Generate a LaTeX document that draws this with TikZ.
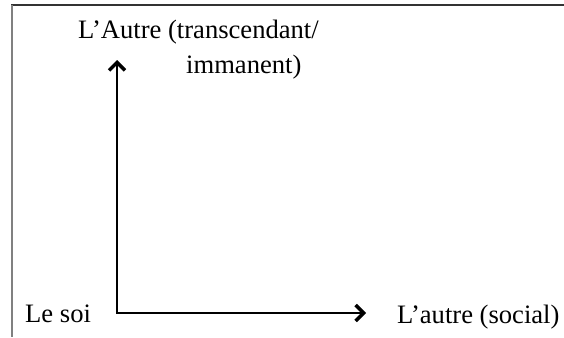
\documentclass[tikz,border=0pt]{standalone}
\usepackage{fontspec}
\setmainfont{Liberation Serif}
\usetikzlibrary{arrows.meta}
\begin{document}
\begin{tikzpicture}[x=1pt,y=-1pt,
  lbl/.style={anchor=base west,inner sep=0pt,font=\fontsize{26.6}{30}\selectfont},
  axis/.style={line width=2.1pt,line join=miter,{Straight Barb[length=8pt,width=16pt,line width=3.4pt]}-{Straight Barb[length=8pt,width=16pt,line width=3.4pt]}}]
\useasboundingbox (0,0) rectangle (564,337);
\draw[line width=1.6pt,color=black!80] (11,5) -- (564,5);
\draw[line width=1.4pt,color=black!50] (12,5) -- (12,337);
\node[lbl] (autre1) at (78,39) {L’Autre (transcendant/};
\node[lbl] (autre2) at (186,73) {immanent)};
\node[lbl] (soi) at (25,322) {Le soi};
\node[lbl] (social) at (397,323) {L’autre (social)};
\coordinate (o) at (117,313);
\coordinate (up) at (117,60);
\coordinate (rt) at (366,313);
\draw[axis] (up) -- (o) -- (rt);
\end{tikzpicture}
\end{document}
